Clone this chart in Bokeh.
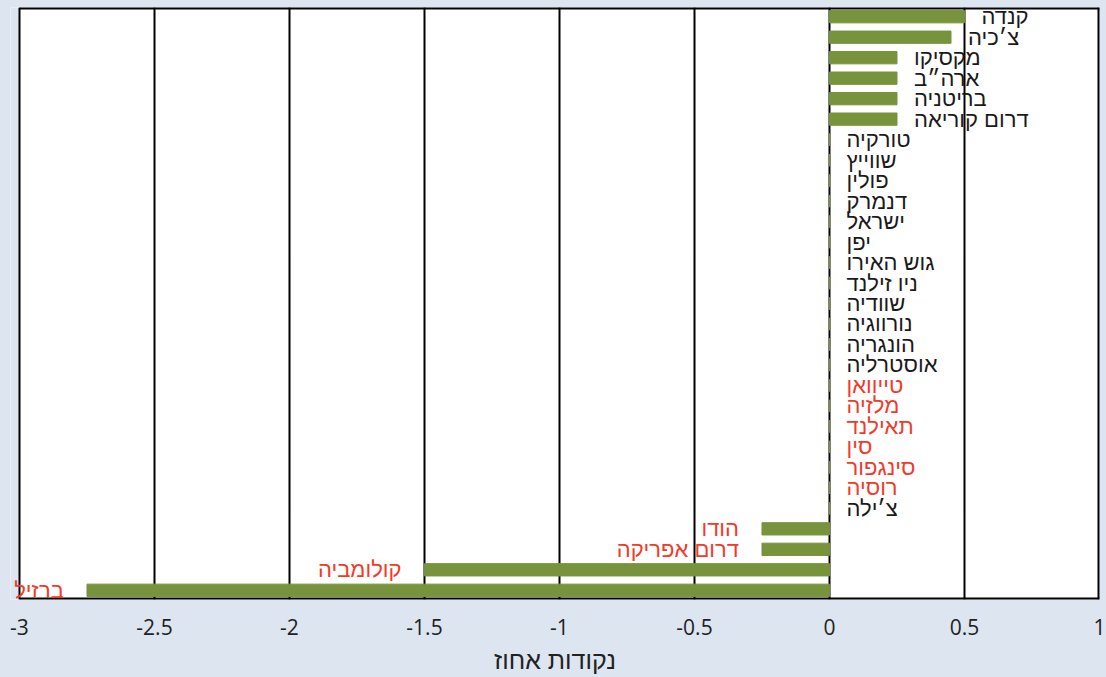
from bokeh.plotting import figure
from bokeh.models import ColumnDataSource, Range1d, FixedTicker, Label
from bokeh.embed import file_html
from bokeh.resources import INLINE

countries = ["קנדה", "צ׳כיה", "מקסיקו", "ארה״ב", "בריטניה", "דרום קוריאה",
             "טורקיה", "שווייץ", "פולין", "דנמרק", "ישראל", "יפן", "גוש האירו",
             "ניו זילנד", "שוודיה", "נורווגיה", "הונגריה", "אוסטרליה",
             "טייוואן", "מלזיה", "תאילנד", "סין", "סינגפור", "רוסיה", "צ׳ילה",
             "הודו", "דרום אפריקה", "קולומביה", "ברזיל"]
values = [0.5, 0.45, 0.25, 0.25, 0.25, 0.25,
          0, 0, 0, 0, 0, 0, 0,
          0, 0, 0, 0, 0,
          0, 0, 0, 0, 0, 0, 0,
          -0.25, -0.25, -1.5, -2.75]
emerging = [False, False, False, False, False, False,
            False, False, False, False, False, False, False,
            False, False, False, False, False,
            True, True, True, True, True, True, False,
            True, True, True, True]
tick_values = [-3, -2.5, -2, -1.5, -1, -0.5, 0, 0.5, 1]
tick_labels = ["-3", "-2.5", "-2", "-1.5", "-1", "-0.5", "0", "0.5", "1"]
x_title = "נקודות אחוז"

BG = "#dde5f1"
BAR = "#77933c"
RED = "#f23a2a"
BLACK = "#1a1a1a"

n = len(countries)
ys = list(range(n))
x_lo, x_hi = tick_values[0], tick_values[-1]
y_top, y_bot = -0.45, n - 0.55
# small extra strip left of x=-3 so the last label can overhang the frame
x_start = x_lo - 0.0333

src = ColumnDataSource(dict(y=ys, v=values))

p = figure(width=1106, height=677, output_backend="svg", toolbar_location=None,
           x_range=Range1d(x_start, x_hi), y_range=Range1d(y_bot, y_top),
           min_border_left=10, min_border_right=7, min_border_top=7,
           min_border_bottom=78)
p.background_fill_color = "white"
p.border_fill_color = BG
p.outline_line_color = None

# blue strip outside the chart area (beneath the grid)
p.quad(left=[x_start], right=[x_lo], top=[y_top], bottom=[y_bot],
       fill_color=BG, line_color=None, level="image")

ticker = FixedTicker(ticks=tick_values)
p.xgrid.ticker = ticker
p.xgrid.grid_line_color = "black"
p.xgrid.grid_line_width = 2
p.ygrid.visible = False

p.hbar(y="y", left=0, right="v", height=0.6, source=src, color=BAR)

# chart border: top, bottom, right (left is the -3 grid line)
p.segment(x0=[x_lo, x_lo, x_hi], y0=[y_top, y_bot, y_top],
          x1=[x_hi, x_hi, x_hi], y1=[y_top, y_bot, y_bot],
          line_color="black", line_width=4)

for name, v, y, em in zip(countries, values, ys, emerging):
    p.add_layout(Label(x=v, y=y, text=name,
                       text_align="left" if v >= 0 else "right",
                       x_offset=17 if v >= 0 else -23,
                       text_baseline="middle",
                       text_color=RED if em else BLACK,
                       text_font="Liberation Sans",
                       text_font_size="22px"))

p.yaxis.visible = False
xa = p.xaxis[0]
xa.ticker = ticker
xa.major_label_overrides = {t: l for t, l in zip(tick_values, tick_labels)}
xa.axis_line_color = None
xa.major_tick_line_color = None
xa.minor_tick_line_color = None
xa.major_label_standoff = 13
xa.major_label_text_font = "Open Sans"
xa.major_label_text_font_size = "21px"
xa.major_label_text_color = "#222222"
xa.axis_label = x_title
xa.axis_label_text_font = "Liberation Sans"
xa.axis_label_text_font_style = "normal"
xa.axis_label_text_font_size = "25px"
xa.axis_label_text_color = "#222222"
xa.axis_label_standoff = 8

html = file_html(p, INLINE)
html = html.replace("</head>", "<style>body{background:%s;}</style></head>" % BG, 1)
open("out.html", "w").write(html)
